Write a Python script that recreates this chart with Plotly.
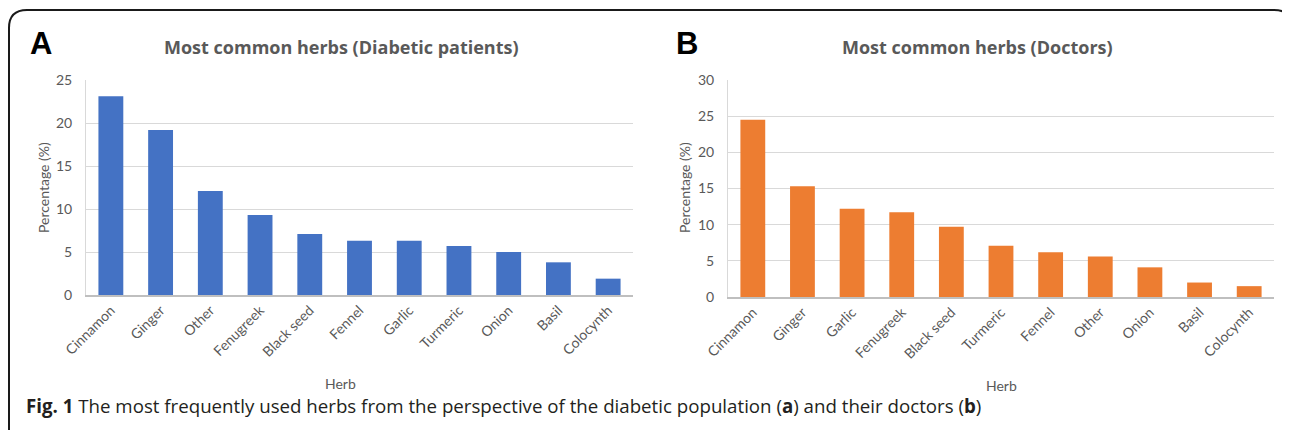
import plotly.graph_objects as go

herbs_a = ["Cinnamon", "Ginger", "Other", "Fenugreek", "Black seed", "Fennel",
           "Garlic", "Turmeric", "Onion", "Basil", "Colocynth"]
vals_a = [23.1, 19.2, 12.1, 9.3, 7.1, 6.3, 6.3, 5.7, 5.0, 3.8, 1.9]

herbs_b = ["Cinnamon", "Ginger", "Garlic", "Fenugreek", "Black seed", "Turmeric",
           "Fennel", "Other", "Onion", "Basil", "Colocynth"]
vals_b = [24.5, 15.3, 12.2, 11.7, 9.7, 7.1, 6.2, 5.6, 4.1, 2.0, 1.5]

ticks_a = [0, 5, 10, 15, 20, 25]
ticks_b = [0, 5, 10, 15, 20, 25, 30]

W, H = 1290, 430
OFF = 8  # page body margin in the browser


def px(x):
    return (x - OFF) / W


def py(y):
    return 1 - (y - OFF) / H


GREY = "#595959"
FONT = "Lato"

fig = go.Figure()
fig.add_trace(go.Bar(x=herbs_a, y=vals_a, xaxis="x", yaxis="y",
                     marker=dict(color="#4472C4", line=dict(width=0)), width=0.5,
                     showlegend=False))
fig.add_trace(go.Bar(x=herbs_b, y=vals_b, xaxis="x2", yaxis="y2",
                     marker=dict(color="#ED7D31", line=dict(width=0)), width=0.5,
                     showlegend=False))

xcommon = dict(tickangle=-45, tickfont=dict(family=FONT, size=14, color=GREY),
               showline=True, linecolor="#BFBFBF", linewidth=1.5, ticks="",
               showgrid=False, zeroline=False, fixedrange=True, automargin=False)
ycommon = dict(tickfont=dict(family=FONT, size=14, color=GREY),
               showline=True, linecolor="#D9D9D9", linewidth=1,
               showgrid=True, gridcolor="#D9D9D9", gridwidth=1, ticks="",
               zeroline=False, ticklabelstandoff=10, fixedrange=True, automargin=False)

fig.update_layout(
    width=W, height=H,
    margin=dict(l=0, r=0, t=0, b=0, autoexpand=False),
    paper_bgcolor="white", plot_bgcolor="white",
    bargap=0.5,
    xaxis=dict(domain=[px(86), px(633)], anchor="y", **xcommon),
    yaxis=dict(domain=[py(295), py(80)], anchor="x", range=[0, 25],
               tickvals=ticks_a, **ycommon),
    xaxis2=dict(domain=[px(728), px(1274)], anchor="y2", **xcommon),
    yaxis2=dict(domain=[py(297), py(80)], anchor="x2", range=[0, 30],
                tickvals=ticks_b, **ycommon),
)

ann = []
# Panel letters
ann.append(dict(text="<b>A</b>", x=px(28), y=py(43), xanchor="left", yanchor="middle",
                font=dict(family="Liberation Sans", size=31, color="black")))
ann.append(dict(text="<b>B</b>", x=px(674), y=py(43), xanchor="left", yanchor="middle",
                font=dict(family="Liberation Sans", size=31, color="black")))
# Titles
ann.append(dict(text="<b>Most common herbs (Diabetic patients)</b>", x=px(341), y=py(47),
                xanchor="center", yanchor="middle",
                font=dict(family="Open Sans", size=18, color=GREY)))
ann.append(dict(text="<b>Most common herbs (Doctors)</b>", x=px(977), y=py(47),
                xanchor="center", yanchor="middle",
                font=dict(family="Open Sans", size=18, color=GREY)))
# Y axis titles
ann.append(dict(text="Percentage (%)", x=px(43), y=py(188), textangle=-90,
                xanchor="center", yanchor="middle",
                font=dict(family=FONT, size=14, color=GREY)))
ann.append(dict(text="Percentage (%)", x=px(684), y=py(188), textangle=-90,
                xanchor="center", yanchor="middle",
                font=dict(family=FONT, size=14, color=GREY)))
# X axis titles
ann.append(dict(text="Herb", x=px(340), y=py(383), xanchor="center", yanchor="middle",
                font=dict(family=FONT, size=14, color=GREY)))
ann.append(dict(text="Herb", x=px(1002), y=py(385), xanchor="center", yanchor="middle",
                font=dict(family=FONT, size=14, color=GREY)))
# Caption
ann.append(dict(text="<b>Fig. 1</b> The most frequently used herbs from the perspective of the "
                     "diabetic population (<b>a</b>) and their doctors (<b>b</b>)",
                x=px(24), y=py(405), xanchor="left", yanchor="middle",
                font=dict(family="Open Sans", size=18.7, color="#231F20")))
for a in ann:
    a.update(xref="paper", yref="paper", showarrow=False)
fig.update_layout(annotations=ann)

# Rounded frame
path = (f"M {px(9)},{py(440)} L {px(9)},{py(28)} "
        f"Q {px(9)},{py(10)} {px(27)},{py(10)} "
        f"L {px(1274)},{py(10)} Q {px(1292)},{py(10)} {px(1292)},{py(28)} "
        f"L {px(1292)},{py(440)}")
fig.add_shape(type="path", path=path, xref="paper", yref="paper",
              line=dict(color="#1a1a1a", width=2))

fig.write_html("out.html")
